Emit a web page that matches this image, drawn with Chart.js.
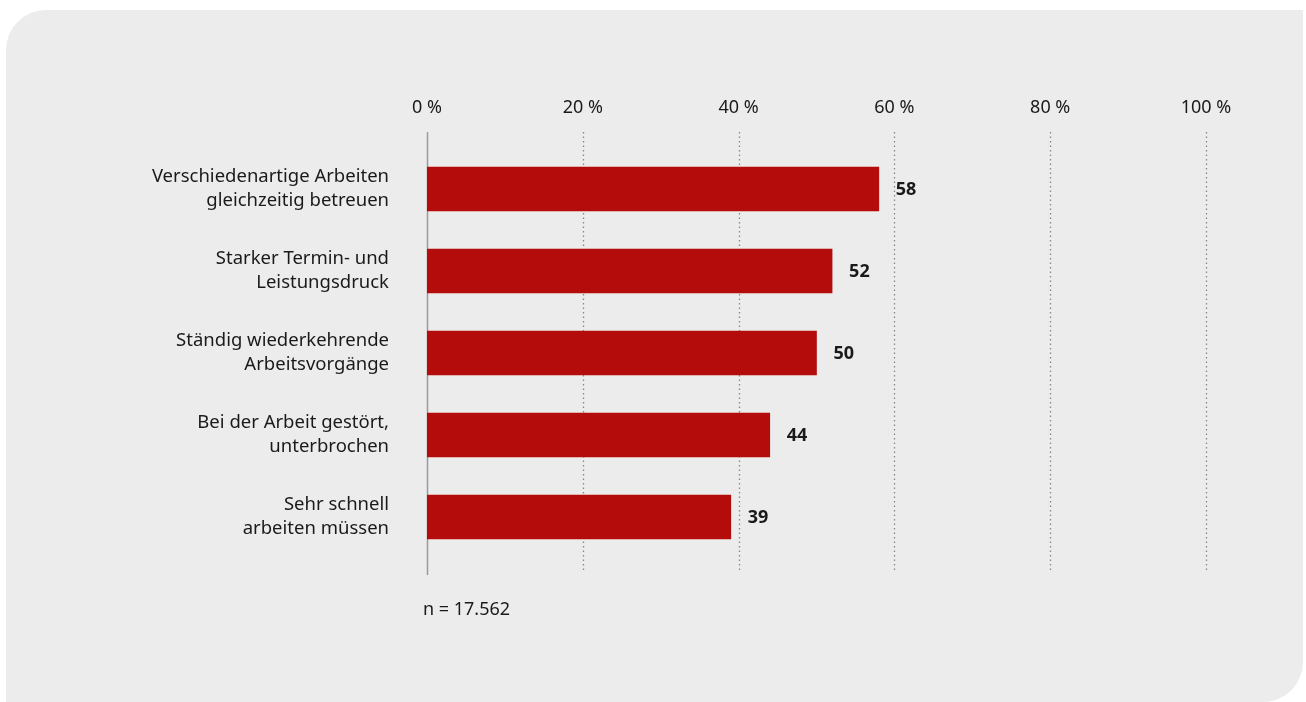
<!DOCTYPE html>
<html lang="de">
<head>
<meta charset="utf-8">
<title>Arbeitsanforderungen</title>
<script src="https://cdn.jsdelivr.net/npm/chart.js@4.4.1/dist/chart.umd.min.js"></script>
<style>
    html, body {
        margin: 0;
        padding: 0;
        width: 1306px;
        height: 702px;
        background: #ffffff;
        overflow: hidden;
        font-family: "Noto Sans", sans-serif;
    }
    .panel {
        position: absolute;
        left: 6px;
        top: 10px;
        width: 1297px;
        height: 692px;
        background: #ececec;
        border-radius: 40px 0 40px 0;
    }
    #chart {
        position: absolute;
        left: 0;
        top: 0;
    }
    .note {
        position: absolute;
        left: 423px;
        top: 596px;
        font-size: 18px;
        color: #1a1a1a;
    }
</style>
</head>
<body>
<div class="panel"></div>
<canvas id="chart" width="1306" height="702"></canvas>
<div class="note">n = 17.562</div>

<script>
// Kategorien (zweizeilig) und Werte in Prozent
const categories = [
    ['Verschiedenartige Arbeiten', 'gleichzeitig betreuen'],
    ['Starker Termin- und', 'Leistungsdruck'],
    ['Ständig wiederkehrende', 'Arbeitsvorgänge'],
    ['Bei der Arbeit gestört,', 'unterbrochen'],
    ['Sehr schnell', 'arbeiten müssen']
];
const values = [58, 52, 50, 44, 39];
const tickValues = [0, 20, 40, 60, 80, 100];

const barColor = '#b40c0b';
const textColor = '#1a1a1a';
const fontFamily = '"Noto Sans", sans-serif';

// Gepunktete Gitterlinien und Nulllinie, etwas über die Balkenfläche hinaus
const gridPlugin = {
    id: 'extendedGrid',
    beforeDatasetsDraw(chart) {
        const ctx = chart.ctx;
        const xScale = chart.scales.x;
        const area = chart.chartArea;
        const top = area.top - 16;
        const bottom = area.bottom + 15;

        ctx.save();
        tickValues.forEach(v => {
            const x = Math.round(xScale.getPixelForValue(v)) + 0.5;
            ctx.beginPath();
            if (v === 0) {
                ctx.setLineDash([]);
                ctx.strokeStyle = '#9a9a9a';
                ctx.lineWidth = 1.5;
                ctx.moveTo(x, top);
                ctx.lineTo(x, bottom + 2);
            } else {
                ctx.setLineDash([1.5, 3]);
                ctx.strokeStyle = '#888888';
                ctx.lineWidth = 1.3;
                ctx.moveTo(x, top);
                ctx.lineTo(x, bottom);
            }
            ctx.stroke();
        });
        ctx.restore();
    }
};

// Werte rechts neben den Balken
const valueLabels = {
    id: 'valueLabels',
    afterDatasetsDraw(chart) {
        const ctx = chart.ctx;
        const meta = chart.getDatasetMeta(0);
        ctx.save();
        ctx.font = 'bold 18px ' + fontFamily;
        ctx.fillStyle = textColor;
        ctx.textAlign = 'left';
        ctx.textBaseline = 'middle';
        meta.data.forEach((bar, i) => {
            ctx.fillText(String(values[i]), bar.x + 17, bar.y + 1);
        });
        ctx.restore();
    }
};

new Chart(document.getElementById('chart').getContext('2d'), {
    type: 'bar',
    data: {
        labels: categories,
        datasets: [{
            data: values,
            backgroundColor: barColor,
            borderWidth: 0,
            barThickness: 44
        }]
    },
    options: {
        indexAxis: 'y',
        responsive: false,
        animation: false,
        devicePixelRatio: 1,
        layout: {
            padding: { top: 0, right: 100, bottom: 144, left: 0 }
        },
        plugins: {
            legend: { display: false },
            tooltip: { enabled: false }
        },
        scales: {
            x: {
                position: 'top',
                min: 0,
                max: 100,
                afterFit(scale) { scale.height = 148; },
                afterBuildTicks(scale) {
                    scale.ticks = tickValues.map(v => ({ value: v }));
                },
                grid: { display: false, drawTicks: false },
                border: { display: false },
                ticks: {
                    padding: 29,
                    color: textColor,
                    font: { family: fontFamily, size: 18 },
                    callback: v => v + ' %'
                }
            },
            y: {
                afterFit(scale) { scale.width = 427; },
                grid: { display: false, drawTicks: false },
                border: { display: false },
                ticks: {
                    padding: 38,
                    color: textColor,
                    font: { family: fontFamily, size: 18.5, lineHeight: 1.3 }
                }
            }
        }
    },
    plugins: [gridPlugin, valueLabels]
});
</script>
</body>
</html>
